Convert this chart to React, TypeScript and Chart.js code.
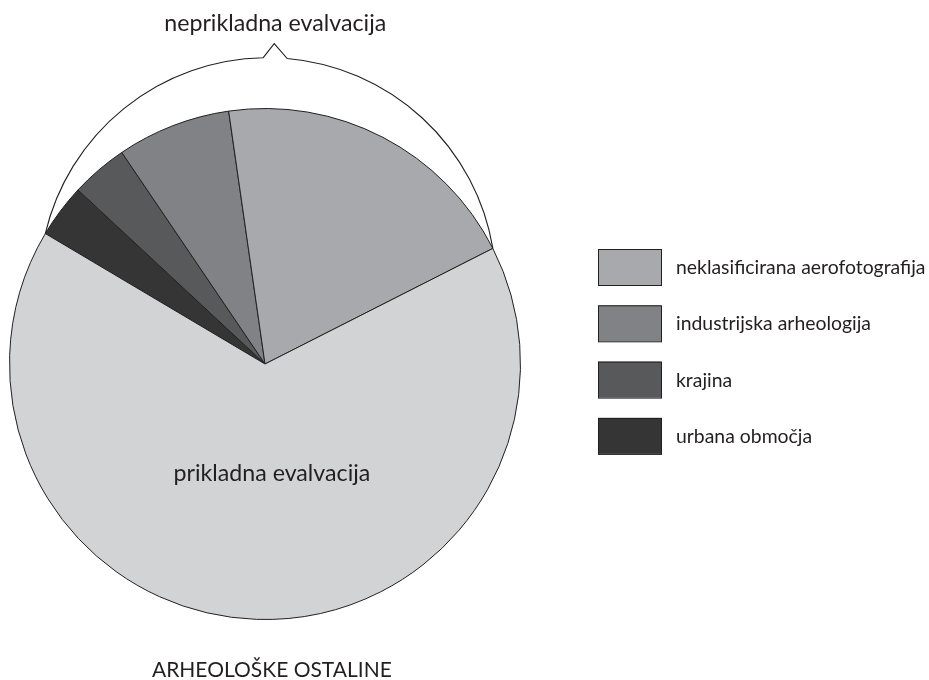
import React, { useEffect, useRef } from "react";
import { Chart, registerables } from "chart.js";

Chart.register(...registerables);

// ---- data ----
const categories = [
  "urbana območja",
  "krajina",
  "industrijska arheologija",
  "neklasificirana aerofotografija",
  "prikladna evalvacija",
];
const values = [3.4, 3.6, 7.2, 19.8, 66.0];
const colors = ["#353535", "#58595b", "#808285", "#a7a9ac", "#d1d3d4"];
const legendOrder = [3, 2, 1, 0];
const unsuitableIdx = [0, 1, 2, 3];
const unsuitableLabel = "neprikladna evalvacija";
const suitableLabel = "prikladna evalvacija";
const bottomTitle = "ARHEOLOŠKE OSTALINE";

const FONT = "Lato, 'Open Sans', sans-serif";
const INK = "#231f20";

function circleThrough(p1: any, p2: any, p3: any) {
  const ax = p1.x, ay = p1.y, bx = p2.x, by = p2.y, cx = p3.x, cy = p3.y;
  const d = 2 * (ax * (by - cy) + bx * (cy - ay) + cx * (ay - by));
  const a2 = ax * ax + ay * ay, b2 = bx * bx + by * by, c2 = cx * cx + cy * cy;
  const ux = (a2 * (by - cy) + b2 * (cy - ay) + c2 * (ay - by)) / d;
  const uy = (a2 * (cx - bx) + b2 * (ax - cx) + c2 * (bx - ax)) / d;
  return { x: ux, y: uy, r: Math.hypot(ax - ux, ay - uy) };
}

const decorPlugin = {
  id: "decor",
  afterDraw(chart: any) {
    const ctx = chart.ctx;
    const arcs = chart.getDatasetMeta(0).data as any[];
    if (!arcs.length) return;
    const first = arcs[unsuitableIdx[0]];
    const last = arcs[unsuitableIdx[unsuitableIdx.length - 1]];
    const cx = first.x, cy = first.y, r = first.outerRadius;
    const sA = first.startAngle, eA = last.endAngle;
    const A = { x: cx + r * Math.cos(sA), y: cy + r * Math.sin(sA) };
    const B = { x: cx + r * Math.cos(eA), y: cy + r * Math.sin(eA) };
    const T = { x: cx + 0.008 * r, y: cy - 1.199 * r };
    const C = circleThrough(A, B, T);

    const notchC = cx + 0.04 * r;
    const half = 12;
    const onCircle = (x: number) => ({ x, y: C.y - Math.sqrt(C.r * C.r - (x - C.x) * (x - C.x)) });
    const L = onCircle(notchC - half);
    const R = onCircle(notchC + half);
    const peak = { x: notchC - 1, y: Math.min(L.y, R.y) - 14 };

    ctx.save();
    ctx.strokeStyle = INK;
    ctx.lineWidth = 1.1;
    ctx.beginPath();
    ctx.arc(C.x, C.y, C.r, Math.atan2(A.y - C.y, A.x - C.x), Math.atan2(L.y - C.y, L.x - C.x), false);
    ctx.lineTo(peak.x, peak.y);
    ctx.lineTo(R.x, R.y);
    ctx.arc(C.x, C.y, C.r, Math.atan2(R.y - C.y, R.x - C.x), Math.atan2(B.y - C.y, B.x - C.x), false);
    ctx.stroke();

    ctx.fillStyle = INK;
    ctx.textAlign = "center";
    ctx.textBaseline = "alphabetic";
    ctx.font = `23.2px ${FONT}`;
    ctx.fillText(unsuitableLabel, peak.x + 1, peak.y - 13);
    ctx.fillText(suitableLabel, cx + 0.027 * r, cy + 0.456 * r);
    ctx.font = `21px ${FONT}`;
    ctx.fillText(bottomTitle, cx + 0.027 * r, 677);

    // legend
    const boxX = 598, boxW = 63, boxH = 36, top0 = 249, step = 56.3;
    ctx.textAlign = "left";
    ctx.font = `19.4px ${FONT}`;
    legendOrder.forEach((idx, i) => {
      const y = top0 + i * step;
      ctx.fillStyle = colors[idx];
      ctx.fillRect(boxX, y, boxW, boxH);
      ctx.strokeStyle = INK;
      ctx.lineWidth = 1;
      ctx.strokeRect(boxX + 0.5, y + 0.5, boxW, boxH);
      ctx.fillStyle = INK;
      ctx.fillText(categories[idx], 676, y + 25);
    });
    ctx.restore();
  },
};

export default function App() {
  const ref = useRef<HTMLCanvasElement | null>(null);
  useEffect(() => {
    if (!ref.current) return;
    const chart = new Chart(ref.current, {
      type: "pie",
      data: {
        labels: categories,
        datasets: [
          {
            data: values,
            backgroundColor: colors,
            borderColor: INK,
            borderWidth: 1,
          },
        ],
      },
      options: {
        responsive: false,
        animation: false,
        rotation: -59.3,
        layout: { padding: { left: 9, right: 408, top: 108, bottom: 60 } },
        plugins: {
          legend: { display: false },
          tooltip: { enabled: false },
          title: { display: false },
        },
      },
      plugins: [decorPlugin],
    });
    return () => chart.destroy();
  }, []);
  return (
    <div style={{ position: "fixed", left: 0, top: 0, width: 929, height: 680, background: "#fff" }}>
      <canvas ref={ref} width={929} height={680} />
    </div>
  );
}
